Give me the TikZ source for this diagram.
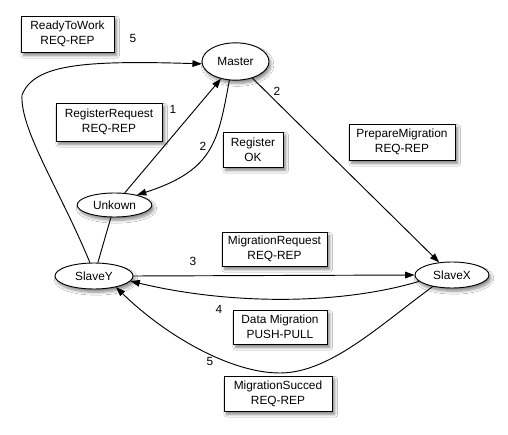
\documentclass[tikz,border=0pt]{standalone}
\usepackage{fontspec}
\setmainfont{Liberation Sans}
\usetikzlibrary{arrows.meta,shapes.geometric,shadows.blur}
\begin{document}
\begin{tikzpicture}[x=0.75pt,y=-0.75pt,
  font=\fontsize{8.9}{11.3}\selectfont,
  oval/.style={ellipse,draw,fill=white,line width=0.7pt,inner sep=0pt,
    blur shadow={shadow xshift=1.5pt,shadow yshift=-2.5pt,shadow blur steps=6,shadow opacity=45}},
  msgbox/.style={rectangle,draw,fill=white,line width=0.7pt,align=center,inner sep=0pt,
    blur shadow={shadow xshift=2pt,shadow yshift=-2.5pt,shadow blur steps=6,shadow opacity=50}},
  link/.style={line width=0.7pt},
  flow/.style={link,-{Triangle[length=7pt,width=5pt]}},
  step label/.style={inner sep=0pt}]
  \useasboundingbox[fill=white] (0,0) rectangle (508,435);

  % actors
  \node[oval,minimum width=50.25pt,minimum height=28pt] (master) at (235.5,61.5) {Master};
  \node[oval,minimum width=56pt,minimum height=18pt] (unk) at (114.5,205) {Unkown};
  \node[oval,minimum width=58.5pt,minimum height=19.5pt] (sy) at (94,276) {SlaveY};
  \node[oval,minimum width=55.5pt,minimum height=19.5pt] (sx) at (452,275) {SlaveX};

  % message descriptions
  \node[msgbox,minimum width=69.75pt,minimum height=27pt] (ready) at (67.5,34) {ReadyToWork\\REQ-REP};
  \node[msgbox,minimum width=79.5pt,minimum height=28.5pt] (regreq) at (109,122) {RegisterRequest\\REQ-REP};
  \node[msgbox,minimum width=45pt,minimum height=26.25pt] (regok) at (253,149.5) {Register\\OK};
  \node[msgbox,minimum width=79.5pt,minimum height=27pt] (prep) at (402,142) {PrepareMigration\\REQ-REP};
  \node[msgbox,minimum width=78.75pt,minimum height=25.5pt] (migreq) at (274.5,249) {MigrationRequest\\REQ-REP};
  \node[msgbox,minimum width=70.5pt,minimum height=25.5pt] (data) at (280,327) {Data Migration\\PUSH-PULL};
  \node[msgbox,minimum width=81pt,minimum height=26.25pt] (succ) at (278,393.5) {MigrationSucced\\REQ-REP};

  % step numbers
  \node[step label] (n5a) at (133,38) {5};
  \node[step label] (n1) at (173,109) {1};
  \node[step label] (n2a) at (203,146) {2};
  \node[step label] (n2b) at (277,91) {2};
  \node[step label] (n3) at (193,261) {3};
  \node[step label] (n4) at (219,309) {4};
  \node[step label] (n5b) at (210,361) {5};

  % connectors
  \draw[flow] (unk) -- (master);
  \draw[flow] (master.252) .. controls (218,140) and (215,170) .. (unk.24);
  \draw[flow] (sy.107) .. controls (60,190) and (20,130) .. (22,95)
              .. controls (34,65) and (80,60) .. (master.184);
  \draw[link] (unk) -- (sy);
  \draw[flow] (master) -- (sx);
  \draw[flow] (sy.east) -- (sx.west);
  \draw[flow] (sx.191) .. controls (340,305) and (230,305) .. (sy.352);
  \draw[flow] (sx.211) .. controls (380,325) and (330,373) .. (280,373)
              .. controls (230,373) and (165,335) .. (sy.333);
\end{tikzpicture}
\end{document}
